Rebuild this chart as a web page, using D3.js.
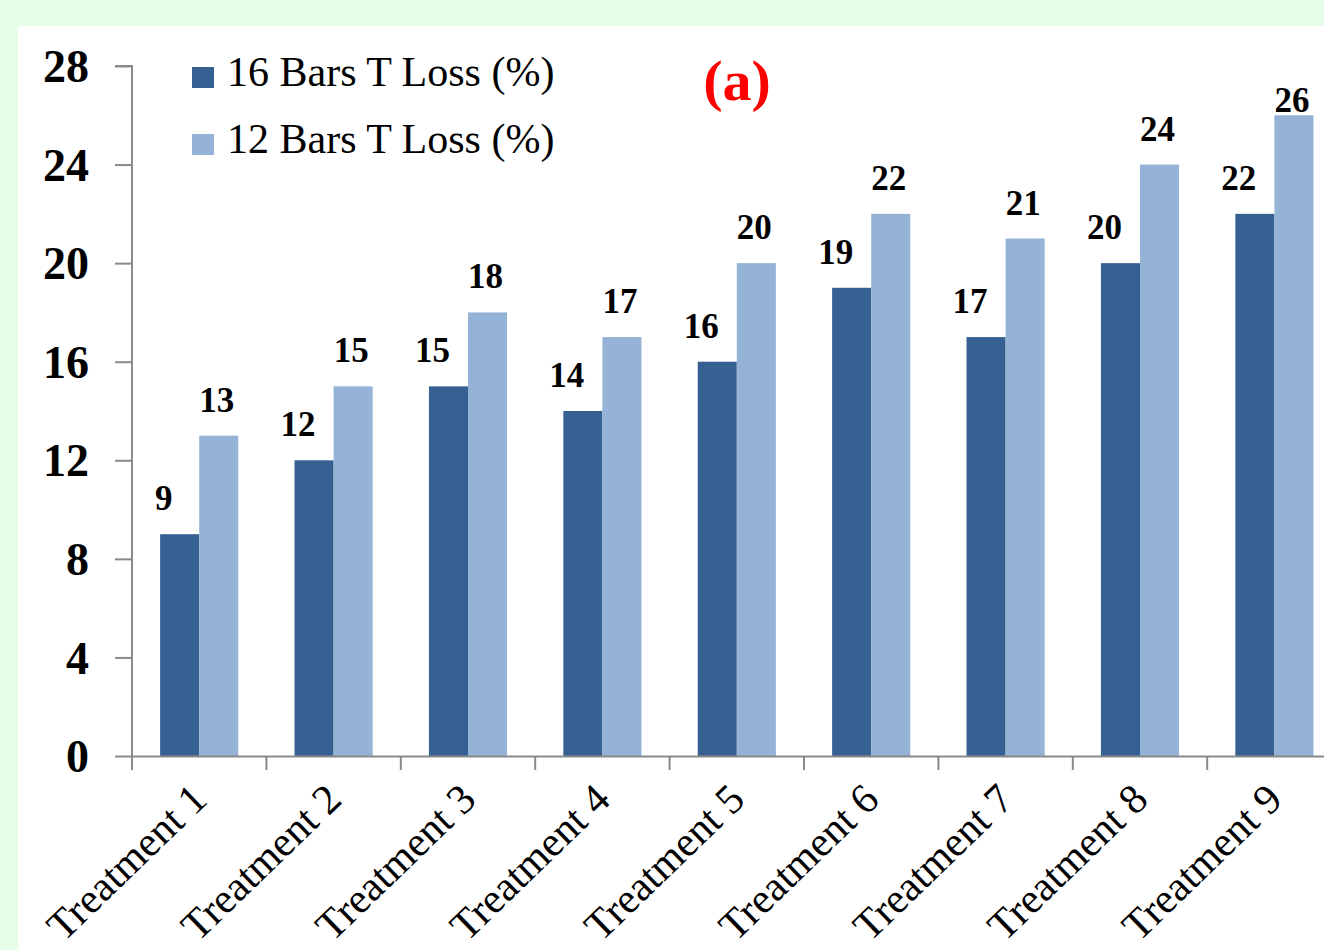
<!DOCTYPE html>
<html>
<head>
<meta charset="utf-8">
<script src="https://cdn.jsdelivr.net/npm/d3@7"></script>
<style>
  html, body { margin: 0; padding: 0; background: #e8fde8; }
  svg { display: block; }
</style>
</head>
<body>
<svg id="chart" width="1324" height="950"></svg>
<script>
// Transverse loss per treatment, two bar configurations
const categories = ["Treatment 1", "Treatment 2", "Treatment 3", "Treatment 4", "Treatment 5",
                    "Treatment 6", "Treatment 7", "Treatment 8", "Treatment 9"];
const seriesNames = ["16 Bars T Loss (%)", "12 Bars T Loss (%)"];
const loss16 = [9, 12, 15, 14, 16, 19, 17, 20, 22];
const loss12 = [13, 15, 18, 17, 20, 22, 21, 24, 26];
const yTicks = [0, 4, 8, 12, 16, 20, 24, 28];
const panelLabel = "(a)";

const colors = ["#376092", "#95b3d7"];
const axisColor = "#8a8a8a";
const serif = "'Liberation Serif', 'Times New Roman', serif";

const svg = d3.select("#chart");

// white chart panel on the pale green page
svg.append("rect")
  .attr("x", 18).attr("y", 26)
  .attr("width", 1324 - 18).attr("height", 950 - 26)
  .attr("fill", "#ffffff");

const plot = { left: 132, top: 66, bottom: 756, step: 134.4 };

const y = d3.scaleLinear().domain([0, 28]).range([plot.bottom, plot.top]);
const x0 = d3.scaleBand()
  .domain(categories)
  .range([plot.left, plot.left + plot.step * categories.length])
  .paddingInner(0).paddingOuter(0);
const x1 = d3.scaleBand()
  .domain(seriesNames)
  .range([0, x0.bandwidth()])
  .paddingInner(0).paddingOuter(0.72);

const rows = categories.map((c, i) => ({ cat: c, values: [loss16[i], loss12[i]] }));

// bars
const groups = svg.append("g").selectAll("g")
  .data(rows).join("g")
  .attr("transform", d => `translate(${x0(d.cat)},0)`);

groups.selectAll("rect")
  .data(d => d.values.map((v, k) => ({ v, k })))
  .join("rect")
  .attr("x", d => x1(seriesNames[d.k]))
  .attr("width", x1.bandwidth())
  .attr("y", d => y(d.v))
  .attr("height", d => y(0) - y(d.v))
  .attr("fill", d => colors[d.k]);

// value labels (kept below the top of the plot area)
const labelGap = 24;
const labelCeil = y(28) + 46;
const labelShift = [-16, -2];
groups.selectAll("text.val")
  .data(d => d.values.map((v, k) => ({ v, k })))
  .join("text")
  .attr("class", "val")
  .attr("x", d => x1(seriesNames[d.k]) + x1.bandwidth() / 2 + labelShift[d.k])
  .attr("y", d => Math.max(y(d.v) - labelGap, labelCeil))
  .attr("text-anchor", "middle")
  .attr("font-family", serif)
  .attr("font-weight", "bold")
  .attr("font-size", 35)
  .attr("fill", "#000")
  .text(d => d.v);

// y axis
const yAxis = svg.append("g")
  .attr("transform", `translate(${plot.left},0)`)
  .call(d3.axisLeft(y).tickValues(yTicks).tickSize(17).tickPadding(0));
yAxis.select(".domain").attr("stroke", axisColor).attr("stroke-width", 2)
  .attr("d", `M-17,${plot.top}H0V${plot.bottom}`);
yAxis.selectAll(".tick line").attr("stroke", axisColor).attr("stroke-width", 2);
yAxis.selectAll(".tick text")
  .attr("font-family", serif)
  .attr("font-weight", "bold")
  .attr("font-size", 46)
  .attr("fill", "#000")
  .attr("x", -43)
  .attr("dy", "0.34em");

// x axis with ticks at category boundaries
const xAxis = svg.append("g")
  .attr("transform", `translate(0,${plot.bottom})`)
  .call(d3.axisBottom(x0).tickSize(0).tickFormat(""));
xAxis.select(".domain").attr("stroke", axisColor).attr("stroke-width", 2);
xAxis.selectAll(".tick").remove();
xAxis.selectAll("line.bound")
  .data(d3.range(categories.length + 1))
  .join("line")
  .attr("class", "bound")
  .attr("x1", i => plot.left + i * x0.step())
  .attr("x2", i => plot.left + i * x0.step())
  .attr("y1", 0).attr("y2", 14)
  .attr("stroke", axisColor).attr("stroke-width", 2);

// rotated category labels
svg.append("g").selectAll("text")
  .data(categories).join("text")
  .attr("transform", d => `translate(${x0(d) + x0.bandwidth() / 2 + 10},${plot.bottom + 46}) rotate(-44)`)
  .attr("text-anchor", "end")
  .attr("font-family", serif)
  .attr("font-size", 42)
  .attr("fill", "#000")
  .text(d => d);

// legend
const legend = svg.append("g").selectAll("g")
  .data(seriesNames).join("g")
  .attr("transform", (d, i) => `translate(192,${67 + i * 67})`);
legend.append("rect")
  .attr("width", 22).attr("height", 21)
  .attr("fill", (d, i) => colors[i]);
legend.append("text")
  .attr("x", 35).attr("y", 19)
  .attr("font-family", serif)
  .attr("font-size", 42)
  .attr("fill", "#000")
  .text(d => d);

// panel label
svg.append("text")
  .attr("x", 737).attr("y", 100)
  .attr("text-anchor", "middle")
  .attr("font-family", serif)
  .attr("font-weight", "bold")
  .attr("font-size", 58)
  .attr("fill", "#ff0000")
  .text(panelLabel);
</script>
</body>
</html>
